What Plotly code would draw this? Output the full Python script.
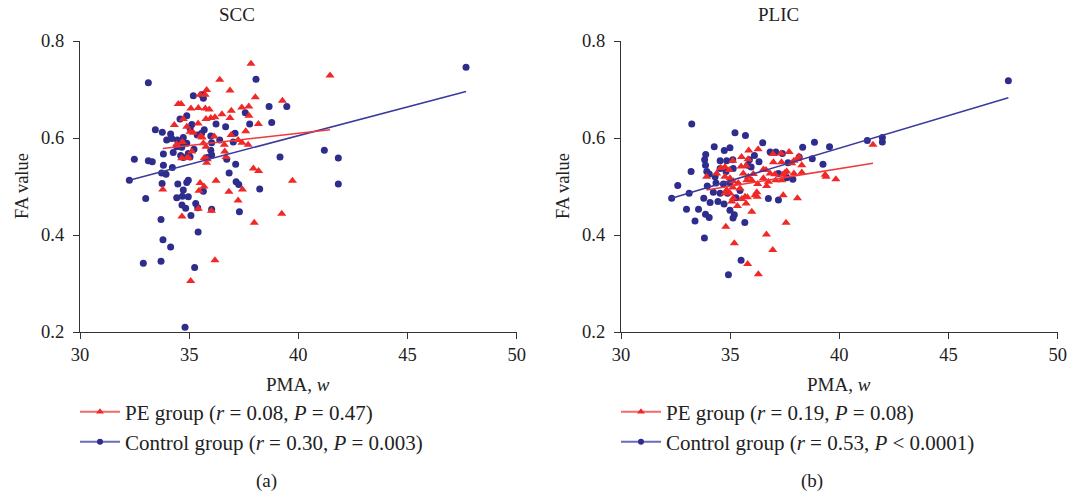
import plotly.graph_objects as go

# ---------------- data ----------------
scc_ctrl_pma = [33.13, 38.06, 35.19, 35.57, 35.65, 38.66, 39.47, 37.57, 34.89, 34.58, 37.77, 38.78, 36.23, 36.67,
                35.12, 35.04, 33.45, 33.77, 34.15, 35.69, 35.57, 35.37, 37.10, 33.97, 34.46, 34.20, 34.73, 34.89,
                35.99, 36.03, 36.40, 37.02, 34.66, 34.43, 35.22, 34.96, 35.99, 36.03, 33.82, 34.27, 34.61, 35.04,
                34.73, 32.49, 33.13, 33.31, 35.83, 36.72, 37.13, 41.19, 41.83, 39.16, 33.82, 34.23, 33.74, 33.94,
                36.83, 32.26, 33.76, 34.48, 34.96, 34.89, 37.15, 37.27, 38.23, 41.83, 35.65, 34.73, 34.69, 34.96,
                34.43, 33.01, 34.67, 34.84, 35.30, 35.39, 36.03, 37.30, 35.08, 33.71, 35.41, 33.80, 34.15, 32.90,
                33.71, 35.25, 34.81, 47.68]
scc_ctrl_fa = [0.714, 0.721, 0.687, 0.689, 0.682, 0.665, 0.665, 0.652, 0.646, 0.639, 0.629, 0.632, 0.629, 0.623,
               0.628, 0.620, 0.617, 0.612, 0.608, 0.617, 0.610, 0.606, 0.610, 0.596, 0.596, 0.599, 0.601, 0.589,
               0.604, 0.590, 0.596, 0.592, 0.581, 0.582, 0.577, 0.568, 0.575, 0.565, 0.567, 0.570, 0.564, 0.561,
               0.560, 0.556, 0.553, 0.551, 0.560, 0.556, 0.546, 0.575, 0.559, 0.561, 0.544, 0.539, 0.528, 0.525,
               0.528, 0.513, 0.506, 0.505, 0.513, 0.508, 0.510, 0.504, 0.495, 0.505, 0.490, 0.493, 0.480, 0.479,
               0.477, 0.475, 0.462, 0.455, 0.465, 0.456, 0.453, 0.448, 0.440, 0.432, 0.406, 0.390, 0.375, 0.342,
               0.346, 0.333, 0.210, 0.746]

scc_pe_pma = [37.83, 41.45, 36.40, 36.87, 35.80, 35.73, 35.50, 38.03, 39.27, 34.50, 34.63, 35.08, 35.42, 35.74,
              35.92, 37.41, 37.73, 36.93, 36.50, 37.74, 34.73, 35.77, 35.99, 36.18, 36.87, 34.32, 35.41, 38.17,
              34.89, 35.04, 35.19, 37.59, 35.53, 36.92, 36.15, 34.69, 34.43, 35.65, 35.77, 35.60, 37.24, 37.42,
              36.61, 37.70, 35.12, 34.96, 36.63, 36.69, 34.66, 34.89, 35.69, 35.80, 35.83, 37.94, 38.18, 36.23,
              39.73, 35.50, 35.68, 35.45, 33.79, 37.44, 36.82, 37.24, 35.42, 36.02, 34.67, 37.98, 39.24, 36.18,
              35.07]
scc_pe_fa = [0.753, 0.729, 0.720, 0.698, 0.699, 0.689, 0.689, 0.684, 0.677, 0.670, 0.670, 0.661, 0.662, 0.661,
             0.659, 0.663, 0.665, 0.656, 0.649, 0.646, 0.639, 0.639, 0.641, 0.643, 0.641, 0.627, 0.630, 0.629,
             0.623, 0.613, 0.611, 0.614, 0.604, 0.606, 0.603, 0.592, 0.587, 0.589, 0.582, 0.601, 0.596, 0.590,
             0.586, 0.586, 0.572, 0.560, 0.572, 0.561, 0.558, 0.559, 0.559, 0.549, 0.556, 0.537, 0.532, 0.512,
             0.512, 0.507, 0.500, 0.491, 0.494, 0.494, 0.489, 0.471, 0.454, 0.450, 0.438, 0.425, 0.444, 0.348,
             0.305]

plic_ctrl_pma = [33.24, 35.22, 35.70, 34.27, 36.49, 34.73, 34.99, 33.88, 33.83, 33.87, 33.93, 33.21, 34.54, 34.84,
                 35.12, 36.32, 36.83, 37.09, 37.39, 37.65, 35.88, 36.11, 34.54, 34.81, 35.14, 35.80, 35.96, 34.04,
                 34.31, 34.35, 34.69, 34.99, 33.95, 37.21, 32.60, 33.12, 32.32, 33.79, 34.23, 34.54, 34.88, 35.27,
                 35.45, 36.75, 37.21, 38.32, 38.86, 39.55, 38.16, 38.76, 39.25, 37.59, 37.87, 41.28, 41.97, 41.97,
                 47.74, 34.44, 34.72, 34.08, 33.00, 33.55, 33.87, 34.04, 33.39, 34.99, 35.19, 35.13, 35.67, 33.82,
                 35.50, 34.92]
plic_ctrl_fa = [0.629, 0.611, 0.605, 0.582, 0.590, 0.574, 0.580, 0.566, 0.555, 0.544, 0.531, 0.531, 0.553, 0.553,
                0.555, 0.551, 0.571, 0.571, 0.568, 0.549, 0.555, 0.564, 0.537, 0.531, 0.537, 0.544, 0.540, 0.526,
                0.520, 0.507, 0.505, 0.507, 0.501, 0.527, 0.502, 0.486, 0.476, 0.476, 0.488, 0.486, 0.486, 0.477,
                0.492, 0.475, 0.472, 0.581, 0.591, 0.582, 0.561, 0.557, 0.546, 0.518, 0.515, 0.595, 0.601, 0.592,
                0.718, 0.469, 0.464, 0.467, 0.453, 0.453, 0.443, 0.436, 0.429, 0.451, 0.442, 0.435, 0.426, 0.394,
                0.348, 0.318]

plic_pe_pma = [35.85, 36.28, 35.12, 35.52, 35.82, 36.96, 37.33, 37.70, 36.98, 37.35, 34.57, 34.76, 34.96, 35.50,
               35.73, 36.52, 36.83, 37.05, 34.38, 33.92, 34.76, 34.99, 35.60, 35.83, 36.06, 35.14, 35.37, 35.45,
               35.76, 35.99, 36.26, 36.52, 36.67, 36.22, 36.75, 37.09, 37.36, 34.84, 34.76, 34.99, 35.12, 35.68,
               35.79, 36.14, 36.24, 35.14, 35.53, 37.43, 38.15, 38.09, 37.92, 37.82, 38.28, 36.64, 37.59, 37.92,
               38.28, 39.35, 39.39, 39.84, 37.41, 37.50, 38.08, 35.99, 35.73, 35.07, 35.33, 34.80, 37.56, 36.66,
               35.19, 36.95, 35.80, 36.29, 41.54]
plic_pe_fa = [0.574, 0.577, 0.553, 0.561, 0.556, 0.567, 0.568, 0.571, 0.550, 0.550, 0.538, 0.540, 0.534, 0.541,
              0.543, 0.535, 0.527, 0.525, 0.527, 0.520, 0.520, 0.517, 0.527, 0.520, 0.526, 0.511, 0.507, 0.496,
              0.513, 0.513, 0.505, 0.517, 0.501, 0.488, 0.510, 0.513, 0.513, 0.493, 0.486, 0.486, 0.498, 0.479,
              0.478, 0.482, 0.479, 0.476, 0.474, 0.482, 0.562, 0.556, 0.553, 0.548, 0.544, 0.534, 0.531, 0.527,
              0.529, 0.524, 0.520, 0.515, 0.524, 0.528, 0.476, 0.448, 0.465, 0.469, 0.460, 0.417, 0.425, 0.401,
              0.383, 0.369, 0.340, 0.319, 0.586]

# regression fits (slope, intercept)
scc_ctrl_fit = (0.01187, 0.1301)
scc_pe_fit = (0.00507, 0.407)
plic_ctrl_fit = (0.01342, 0.0422)
plic_pe_fit = (0.00723, 0.2476)

x_ticks = [30, 35, 40, 45, 50]
x_ticklabels = ["30", "35", "40", "45", "50"]
y_ticks = [0.2, 0.4, 0.6, 0.8]
y_ticklabels = ["0.2", "0.4", "0.6", "0.8"]

legend_scc = ["PE group (<i>r</i> = 0.08, <i>P</i> = 0.47)",
              "Control group (<i>r</i> = 0.30, <i>P</i> = 0.003)"]
legend_plic = ["PE group (<i>r</i> = 0.19, <i>P</i> = 0.08)",
               "Control group (<i>r</i> = 0.53, <i>P</i> &lt; 0.0001)"]

# ---------------- styling ----------------
W, H = 1075, 498
FONT = "Liberation Serif"
BLUE = "#2e2c8c"
RED = "#f02828"
BLUE_LINE = "#3b3a9c"
RED_LINE = "#f03a3a"


def px(x):
    return x / W


def py(y):
    return 1 - y / H


fig = go.Figure()


def add_panel(xa, ya, ctrl_x, ctrl_y, pe_x, pe_y, ctrl_fit, pe_fit, labels, legend_names):
    fig.add_trace(go.Scatter(x=ctrl_x, y=ctrl_y, mode="markers", xaxis=xa, yaxis=ya, showlegend=False,
                             marker=dict(symbol="circle", size=7, color=BLUE, line=dict(width=0))))
    fig.add_trace(go.Scatter(x=pe_x, y=pe_y, mode="markers", xaxis=xa, yaxis=ya, showlegend=False,
                             marker=dict(symbol="triangle-up", size=8, color=RED, line=dict(width=0))))
    cx = [min(ctrl_x), max(ctrl_x)]
    fig.add_trace(go.Scatter(x=cx, y=[ctrl_fit[1] + ctrl_fit[0] * v for v in cx], mode="lines",
                             xaxis=xa, yaxis=ya, showlegend=False, line=dict(color=BLUE_LINE, width=1.6)))
    ex = [min(pe_x), max(pe_x)]
    fig.add_trace(go.Scatter(x=ex, y=[pe_fit[1] + pe_fit[0] * v for v in ex], mode="lines",
                             xaxis=xa, yaxis=ya, showlegend=False, line=dict(color=RED_LINE, width=1.6)))
    # legend entries (one legend box per row)
    fig.add_trace(go.Scatter(x=[None], y=[None], mode="lines+markers", xaxis=xa, yaxis=ya,
                             name=labels[0], legend=legend_names[0],
                             line=dict(color="#f06a6a", width=2),
                             marker=dict(symbol="triangle-up", size=7, color=RED)))
    fig.add_trace(go.Scatter(x=[None], y=[None], mode="lines+markers", xaxis=xa, yaxis=ya,
                             name=labels[1], legend=legend_names[1],
                             line=dict(color="#6a6ab8", width=2),
                             marker=dict(symbol="circle", size=6, color=BLUE)))


add_panel("x", "y", scc_ctrl_pma, scc_ctrl_fa, scc_pe_pma, scc_pe_fa, scc_ctrl_fit, scc_pe_fit,
          legend_scc, ["legend", "legend2"])
add_panel("x2", "y2", plic_ctrl_pma, plic_ctrl_fa, plic_pe_pma, plic_pe_fa, plic_ctrl_fit, plic_pe_fit,
          legend_plic, ["legend3", "legend4"])

axis_common = dict(showline=True, linecolor="#333333", linewidth=1.3, ticks="outside", ticklen=6,
                   tickcolor="#333333", tickwidth=1.2, showgrid=False, zeroline=False, automargin=False,
                   tickfont=dict(family=FONT, size=18.5, color="#222222"))

ydom = [py(332), py(41)]
leg_common = dict(xanchor="left", yanchor="middle", bgcolor="rgba(0,0,0,0)", itemwidth=40,
                  font=dict(family=FONT, size=21, color="#222222"))
fig.update_layout(
    width=W, height=H,
    margin=dict(l=0, r=0, t=0, b=0, autoexpand=False),
    paper_bgcolor="white", plot_bgcolor="white",
    font=dict(family=FONT, size=18, color="#222222"),
    xaxis=dict(domain=[px(80), px(516.7)], range=[30, 50], tickvals=x_ticks, ticktext=x_ticklabels,
               anchor="y", **axis_common),
    yaxis=dict(domain=ydom, range=[0.2, 0.8], tickvals=y_ticks, ticktext=y_ticklabels,
               anchor="x", ticklabelstandoff=5, **axis_common),
    xaxis2=dict(domain=[px(621), px(1057.7)], range=[30, 50], tickvals=x_ticks, ticktext=x_ticklabels,
                anchor="y2", **axis_common),
    yaxis2=dict(domain=ydom, range=[0.2, 0.8], tickvals=y_ticks, ticktext=y_ticklabels,
                anchor="x2", ticklabelstandoff=5, **axis_common),
    legend=dict(x=px(75), y=py(412), **leg_common),
    legend2=dict(x=px(75), y=py(442), **leg_common),
    legend3=dict(x=px(616), y=py(412), **leg_common),
    legend4=dict(x=px(616), y=py(442), **leg_common),
)

annotations = [
    ("SCC", 237, 14, 0, 19), ("PLIC", 778, 14, 0, 19),
    ("FA value", 22, 186, -90, 18.5), ("FA value", 563, 186, -90, 18.5),
    ("PMA, <i>w</i>", 298, 384, 0, 19), ("PMA, <i>w</i>", 839, 384, 0, 19),
    ("(a)", 266, 481, 0, 19), ("(b)", 812, 481, 0, 19),
]
for text, x, y, ang, size in annotations:
    fig.add_annotation(text=text, x=px(x), y=py(y), xref="paper", yref="paper", showarrow=False,
                       xanchor="center", yanchor="middle", textangle=ang,
                       font=dict(family=FONT, size=size, color="#222222"))

# remove the browser's default 8px body margin so the figure sits at the page origin
fig.write_html("out.html", config={"displayModeBar": False},
               post_script="document.body.style.margin='0px';")
